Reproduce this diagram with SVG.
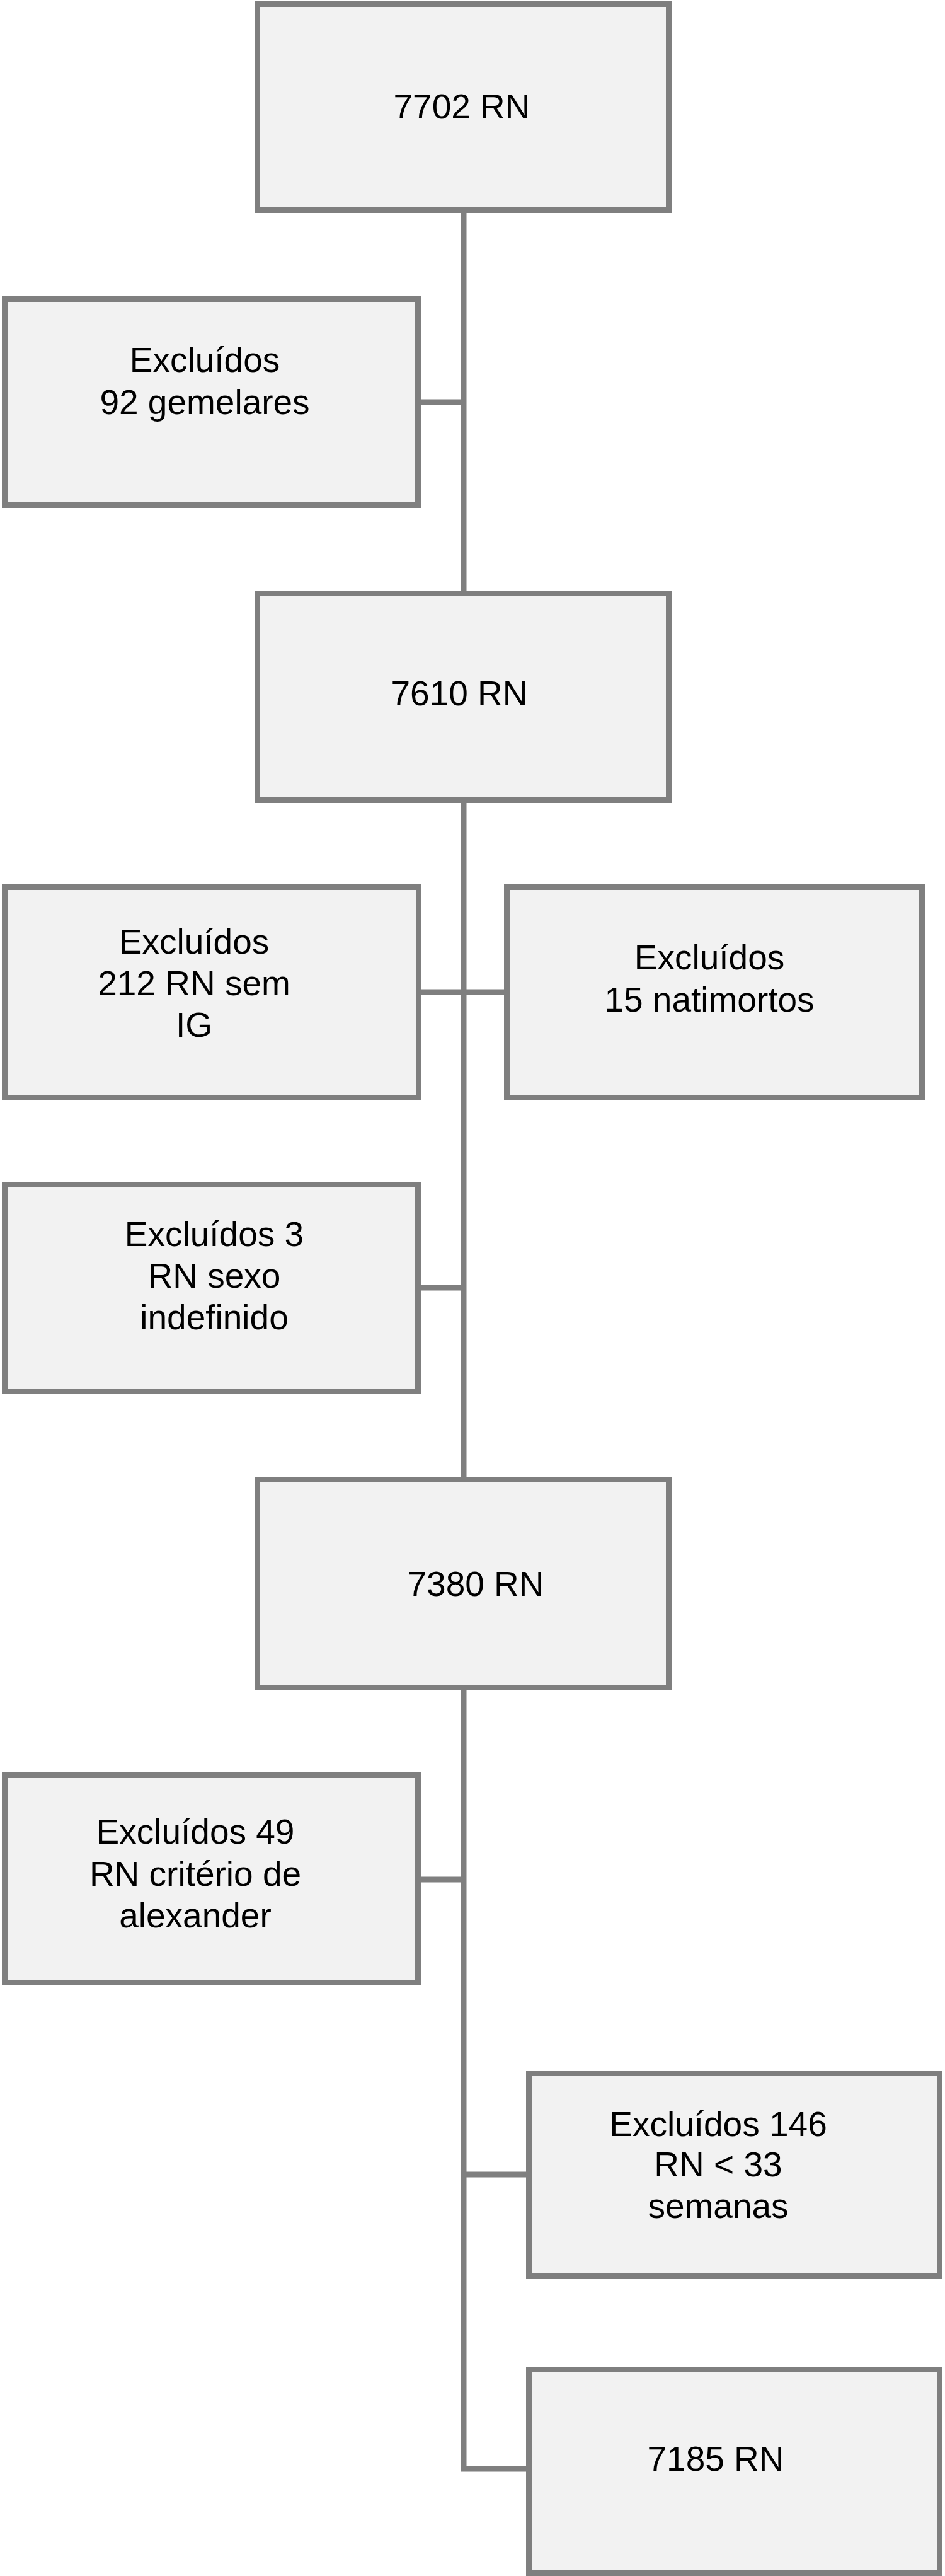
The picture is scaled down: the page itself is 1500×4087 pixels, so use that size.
<svg xmlns="http://www.w3.org/2000/svg" width="1500" height="4087" viewBox="0 0 1500 4087">
<style>
.box{fill:#f2f2f2;stroke:#7f7f7f;stroke-width:9}
.ln{fill:none;stroke:#7f7f7f;stroke-width:9}
text{font-family:"Liberation Sans",Arial,sans-serif;font-size:55px;fill:#000;text-anchor:middle}
</style>
<rect width="1500" height="4087" fill="#fff"/>
<g id="connectors">
<path class="ln" d="M736 338V937"/>
<path class="ln" d="M736 1274V2343"/>
<path class="ln" d="M736 2682V3917H835"/>
<path class="ln" d="M668 638H736"/>
<path class="ln" d="M669 1574H800"/>
<path class="ln" d="M668 2043H736"/>
<path class="ln" d="M668 2982H736"/>
<path class="ln" d="M736 3450H835"/>
</g>
<g id="n7702">
<rect class="box" x="408.5" y="6.5" width="653" height="327"/>
<text x="733" y="188">7702 RN</text>
</g>
<g id="gemelares">
<rect class="box" x="7.5" y="474.5" width="656" height="327"/>
<text x="325" y="590">Excluídos</text>
<text x="325" y="657">92 gemelares</text>
</g>
<g id="n7610">
<rect class="box" x="408.5" y="941.5" width="653" height="328"/>
<text x="729" y="1119">7610 RN</text>
</g>
<g id="semIG">
<rect class="box" x="7.5" y="1407.5" width="657" height="334"/>
<text x="308" y="1513">Excluídos</text>
<text x="308" y="1579">212 RN sem</text>
<text x="308" y="1645">IG</text>
</g>
<g id="natimortos">
<rect class="box" x="804.5" y="1407.5" width="659" height="334"/>
<text x="1126" y="1538">Excluídos</text>
<text x="1126" y="1605">15 natimortos</text>
</g>
<g id="sexo">
<rect class="box" x="7.5" y="1879.5" width="656" height="328"/>
<text x="340" y="1977">Excluídos 3</text>
<text x="340" y="2043">RN sexo</text>
<text x="340" y="2109">indefinido</text>
</g>
<g id="n7380">
<rect class="box" x="408.5" y="2347.5" width="653" height="330"/>
<text x="755" y="2532">7380 RN</text>
</g>
<g id="alexander">
<rect class="box" x="7.5" y="2816.5" width="656" height="329"/>
<text x="310" y="2925">Excluídos 49</text>
<text x="310" y="2992">RN critério de</text>
<text x="310" y="3058">alexander</text>
</g>
<g id="semanas">
<rect class="box" x="839.5" y="3289.5" width="652" height="322"/>
<text x="1140" y="3389">Excluídos 146</text>
<text x="1140" y="3453">RN &lt; 33</text>
<text x="1140" y="3519">semanas</text>
</g>
<g id="n7185">
<rect class="box" x="839.5" y="3759.5" width="652" height="323"/>
<text x="1136" y="3920">7185 RN</text>
</g>
</svg>
